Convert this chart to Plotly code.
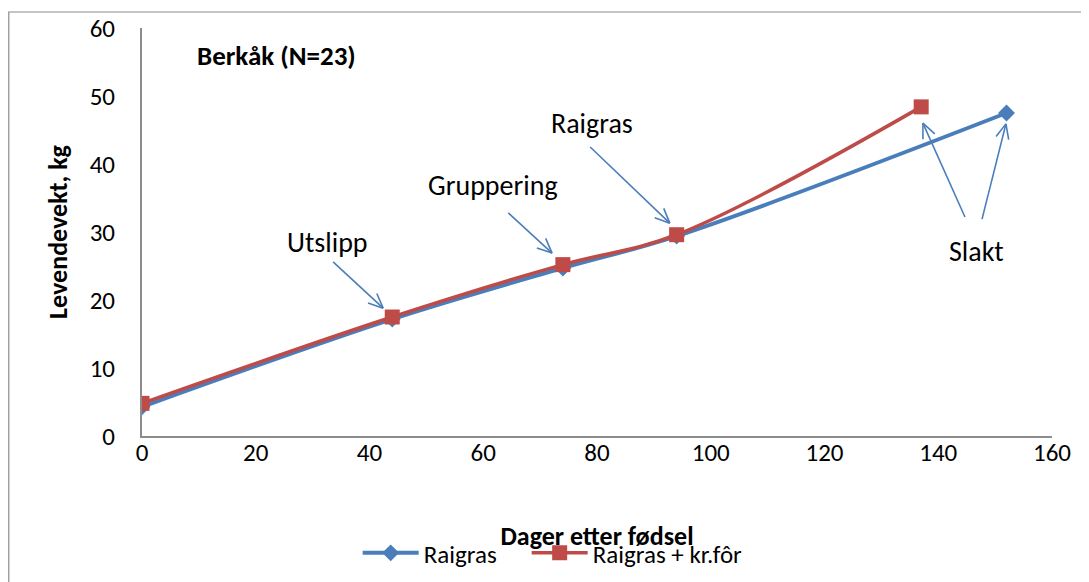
import math
import plotly.graph_objects as go

# ---- data ----
days_raigras = [0, 44, 74, 94, 152]
weight_raigras = [4.3, 17.2, 24.7, 29.4, 47.5]
days_kraftfor = [0, 44, 74, 94, 137]
weight_kraftfor = [4.8, 17.5, 25.2, 29.6, 48.4]
series_names = ["Raigras", "Raigras + kr.fôr"]

x_ticks = [0, 20, 40, 60, 80, 100, 120, 140, 160]
y_ticks = [0, 10, 20, 30, 40, 50, 60]

# annotation labels (text, x, y)
labels = ["Utslipp", "Gruppering", "Raigras", "Slakt"]
label_x = [32.7, 61.7, 79.1, 146.8]
label_y = [28.4, 36.8, 46.0, 27.1]
# arrows: tail -> head
arrow_tail_x = [33.6, 64.4, 78.8, 144.7, 147.7]
arrow_tail_y = [25.6, 32.8, 42.5, 32.2, 31.9]
arrow_head_x = [42.4, 72.1, 92.8, 137.3, 151.9]
arrow_head_y = [18.8, 26.9, 31.3, 46.0, 45.9]

FONT = "Carlito, Calibri, Lato, sans-serif"
BLUE = "#4A7EBB"
RED = "#BE4B48"
ARROW = "#4A7EBB"

# layout geometry (page body has an 8px margin)
W, H = 1081, 574
L, T, B = 134, 20, 146
pw = 910
R = W - L - pw
ph = H - T - B
sx = pw / 160.0
sy = ph / 60.0

fig = go.Figure()
fig.add_trace(go.Scatter(
    x=days_raigras, y=weight_raigras, name=series_names[0], legend="legend",
    mode="lines+markers", line=dict(color=BLUE, width=4, shape="spline"),
    marker=dict(symbol="diamond", size=13, color=BLUE),
))
fig.add_trace(go.Scatter(
    x=days_kraftfor, y=weight_kraftfor, name=series_names[1], legend="legend2",
    mode="lines+markers", line=dict(color=RED, width=3.5, shape="spline"),
    marker=dict(symbol="square", size=15, color=RED),
))

annotations = []
for t, x, y in zip(labels, label_x, label_y):
    annotations.append(dict(x=x, y=y, xref="x", yref="y", text=t, showarrow=False,
                            font=dict(family=FONT, size=28, color="#000")))
annotations.append(dict(x=23.6, y=56.0, xref="x", yref="y", text="<b>Berkåk (N=23)</b>",
                        showarrow=False, font=dict(family=FONT, size=27, color="#000")))

shapes = []
for tx, ty, hx, hy in zip(arrow_tail_x, arrow_tail_y, arrow_head_x, arrow_head_y):
    shapes.append(dict(type="line", xref="x", yref="y", x0=tx, y0=ty, x1=hx, y1=hy,
                       line=dict(color=ARROW, width=1.6)))
    # open V arrowhead computed in pixel space
    dxp = (hx - tx) * sx
    dyp = (hy - ty) * sy
    ln = math.hypot(dxp, dyp)
    ux, uy = dxp / ln, dyp / ln
    wing = 16
    ang = math.radians(24)
    for s in (1, -1):
        ca, sa = math.cos(s * ang), math.sin(s * ang)
        wx = -(ux * ca - uy * sa) * wing
        wy = -(ux * sa + uy * ca) * wing
        shapes.append(dict(type="line", xref="x", yref="y", x0=hx, y0=hy,
                           x1=hx + wx / sx, y1=hy + wy / sy,
                           line=dict(color=ARROW, width=1.6)))

# outer chart border (top/left visible)
shapes.append(dict(type="rect", xref="paper", yref="paper",
                   x0=(0.8 - L) / pw, x1=1.2, y0=-0.5, y1=1 + (T - 4) / ph,
                   line=dict(color="#8C8C8C", width=1.2), layer="below"))

legend_common = dict(orientation="h", y=-0.287, xanchor="left", yanchor="middle",
                     font=dict(family=FONT, size=25), itemwidth=56,
                     bgcolor="rgba(0,0,0,0)")

fig.update_layout(
    width=W, height=H,
    margin=dict(l=L, r=R, t=T, b=B, autoexpand=False),
    paper_bgcolor="white", plot_bgcolor="white",
    font=dict(family=FONT, size=25, color="#000"),
    showlegend=True,
    legend=dict(x=0.237, **legend_common),
    legend2=dict(x=0.237 + 169 / pw, **legend_common),
    annotations=annotations,
    shapes=shapes,
    xaxis=dict(range=[0, 160], tickvals=x_ticks, showgrid=False, zeroline=False,
               showline=True, linecolor="#8C8C8C", linewidth=2, ticks="", ticklen=0,
               ticklabelstandoff=-7, automargin=False,
               tickfont=dict(family=FONT, size=25),
               title=dict(text="<b>Dager etter fødsel</b>", font=dict(family=FONT, size=26),
                          standoff=60)),
    yaxis=dict(range=[0, 60], tickvals=y_ticks, showgrid=False, zeroline=False,
               showline=True, linecolor="#8C8C8C", linewidth=2, ticks="", ticklen=0,
               ticklabelstandoff=20, automargin=False,
               tickfont=dict(family=FONT, size=25),
               title=dict(text="<b>Levendevekt, kg</b>", font=dict(family=FONT, size=26),
                          standoff=15)),
)

fig.write_html("out.html")
